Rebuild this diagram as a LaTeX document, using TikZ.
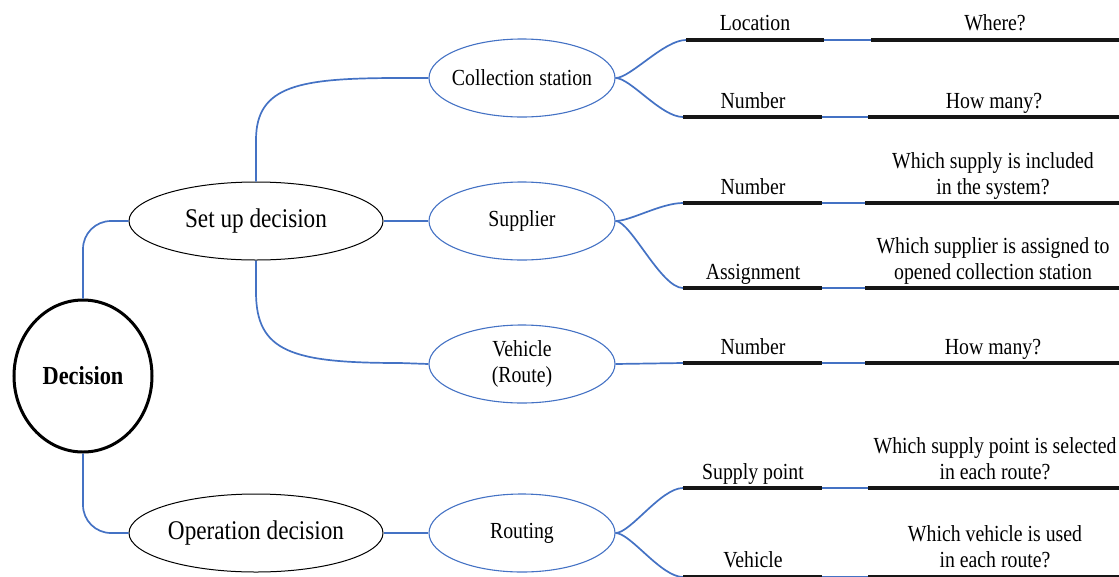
\documentclass[tikz,border=0pt]{standalone}
\usepackage{fontspec}
\setmainfont{Liberation Serif}[FakeStretch=0.86]
\usetikzlibrary{shapes.geometric}
\definecolor{linkblue}{RGB}{68,114,196}
\definecolor{barblack}{RGB}{22,22,22}
% two centred lines whose baseline is the baseline of the lower line
\newcommand\qtwo[2]{\begin{tabular}[b]{@{}c@{}}#1\\#2\end{tabular}}

\begin{document}
\begin{tikzpicture}[x=1pt,y=-1pt,
  root/.style={ellipse, draw, line width=3pt, minimum width=138pt, minimum height=152pt,
    inner sep=0pt, font=\fontsize{26}{30}\selectfont\bfseries},
  branch/.style={ellipse, draw, line width=1pt, minimum width=254pt, minimum height=78pt,
    inner sep=0pt, font=\fontsize{27}{30}\selectfont},
  topic/.style={ellipse, draw=linkblue, line width=1.1pt, minimum width=186pt, minimum height=78pt,
    inner xsep=-20pt, inner ysep=0pt, align=center, font=\fontsize{23}{26}\selectfont},
  link/.style={draw=linkblue, line width=1.7pt},
  bar/.style={draw=barblack, line width=4.5pt},
  tag/.style={anchor=base, inner sep=0pt, font=\fontsize{23}{26}\selectfont},
]
\useasboundingbox (0,0) rectangle (1119,576);

% main nodes
\node[root]   (dec)   at (83,376)  {Decision};
\node[branch] (setup) at (256,221) {Set up decision};
\node[branch] (oper)  at (256,533) {Operation decision};
\node[topic]  (coll)  at (522,78)  {Collection station};
\node[topic]  (supp)  at (522,221) {Supplier};
\node[topic]  (veh)   at (522,364) {Vehicle\\(Route)};
\node[topic]  (rout)  at (522,533) {Routing};

% bar end points: a--b left bar, c--d right bar
\foreach \i/\y/\xa/\xb/\xc in {1/40/686/824/871, 2/117/683/822/868, 3/203/683/822/865,
                               4/288/683/822/865, 5/363/683/822/865, 6/488/683/822/868,
                               7/577/683/822/868}{
  \coordinate (a\i) at (\xa,\y);
  \coordinate (b\i) at (\xb,\y);
  \coordinate (c\i) at (\xc,\y);
  \coordinate (d\i) at (1119,\y);
}

% connectors
\draw[link, rounded corners=28pt] (dec.north) |- (setup.west);
\draw[link, rounded corners=28pt] (dec.south) |- (oper.west);
\draw[link] (setup.north) -- (256,140) .. controls (256,85) and (300,78) .. (400,78) -- (coll.west);
\draw[link] (setup.south) -- (256,292) .. controls (256,352) and (292,363) .. (400,363) -- (veh.west);
\draw[link] (setup.east) -- (supp.west);
\draw[link] (oper.east) -- (rout.west);
\draw[link] (veh.east) -- (a5);
\draw[link] (coll.east) .. controls +(15,0) and +(-22,0) .. (a1);
\draw[link] (coll.east) .. controls +(15,0) and +(-22,0) .. (a2);
\draw[link] (supp.east) .. controls +(15,0) and +(-22,0) .. (a3);
\draw[link] (supp.east) .. controls +(15,0) and +(-22,0) .. (a4);
\draw[link] (rout.east) .. controls +(15,0) and +(-22,0) .. (a6);
\draw[link] (rout.east) .. controls +(15,0) and +(-22,0) .. (a7);
\foreach \i in {1,...,7}{
  \draw[link] (b\i) -- (c\i);
  \draw[bar] (a\i) -- (b\i);
  \draw[bar] (c\i) -- (d\i);
}

% labels over the bars
\node[tag] (l1) at (755,30)  {Location};
\node[tag] (l2) at (753,108) {Number};
\node[tag] (l3) at (753,194) {Number};
\node[tag] (l4) at (753,279) {Assignment};
\node[tag] (l5) at (753,354) {Number};
\node[tag] (l6) at (753,479) {Supply point};
\node[tag] (l7) at (753,567) {Vehicle};

\node[tag] (q1) at (995,30)  {Where?};
\node[tag] (q2) at (994,108) {How many?};
\node[tag] (q3) at (993,194) {\qtwo{Which supply is included}{in the system?}};
\node[tag] (q4) at (993,279) {\qtwo{Which supplier is assigned to}{opened collection station}};
\node[tag] (q5) at (993,354) {How many?};
\node[tag] (q6) at (995,479) {\qtwo{Which supply point is selected}{in each route?}};
\node[tag] (q7) at (995,567) {\qtwo{Which vehicle is used}{in each route?}};
\end{tikzpicture}
\end{document}
